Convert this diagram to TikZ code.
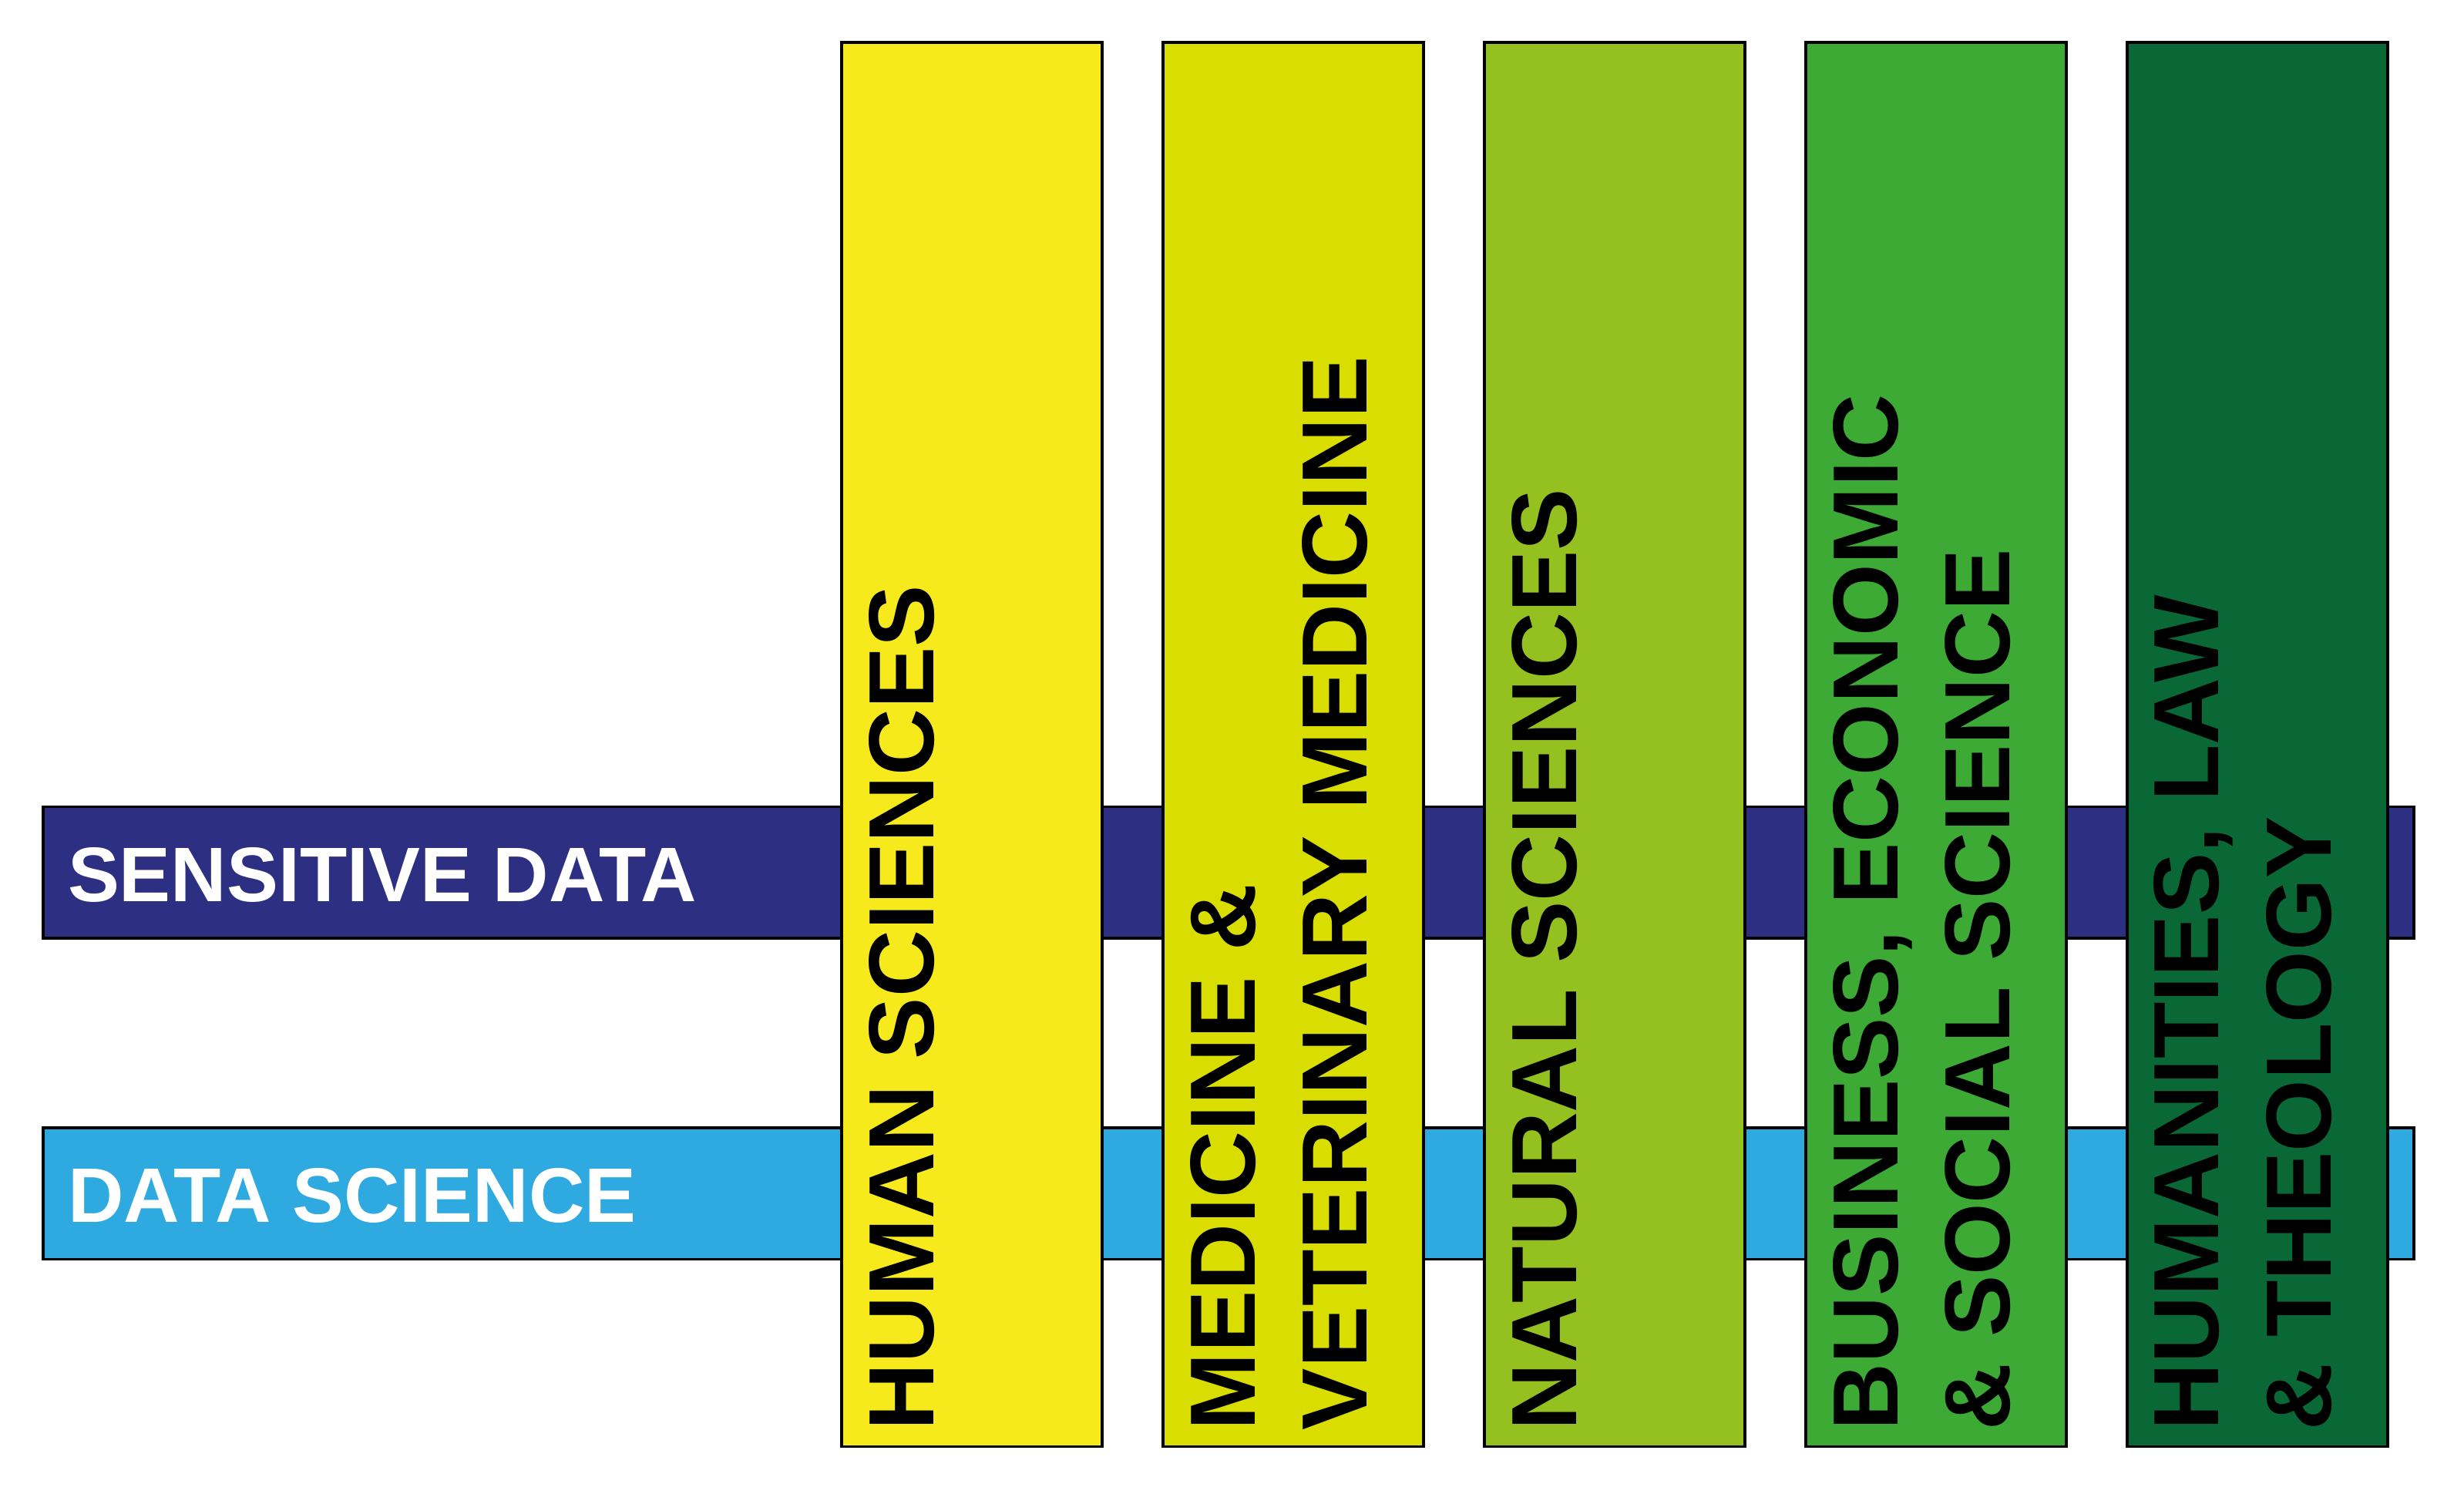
\documentclass[tikz,border=0pt]{standalone}
\usepackage{fontspec}
\setmainfont{Liberation Sans}
\definecolor{navyband}{HTML}{2D2F82}
\definecolor{blueband}{HTML}{2FAAE1}
\definecolor{colA}{HTML}{F6EA1D}
\definecolor{colB}{HTML}{D9DD00}
\definecolor{colC}{HTML}{95C120}
\definecolor{colD}{HTML}{3CAA35}
\definecolor{colE}{HTML}{096835}
\begin{document}
\begin{tikzpicture}[x=1pt,y=-1pt,
  band/.style={draw=black, line width=1.8pt},
  colbox/.style={draw=black, line width=1.8pt},
  bandtxt/.style={anchor=base west, inner sep=0pt, text=white, font=\fontsize{49.2}{49.2}\selectfont\bfseries},
  coltxt/.style={anchor=base west, inner sep=0pt, rotate=90, text=black, font=\fontsize{59}{59}\selectfont\bfseries}]
\useasboundingbox (0,0) rectangle (1568,950.5);
% horizontal bands
\draw[band, fill=navyband] (27.4,513.3) rectangle (1536,597);
\draw[band, fill=blueband] (27.4,717.5) rectangle (1536,801.2);
\node[bandtxt] (sens) at (43,573.5) {SENSITIVE DATA};
\node[bandtxt] (ds) at (43,777.8) {DATA SCIENCE};
% columns
\draw[colbox, fill=colA] (535.5,27) rectangle (701.5,920.4);
\draw[colbox, fill=colB] (740,27) rectangle (906,920.4);
\draw[colbox, fill=colC] (944.5,27) rectangle (1110.5,920.4);
\draw[colbox, fill=colD] (1149,27) rectangle (1315,920.4);
\draw[colbox, fill=colE] (1353.5,27) rectangle (1519.5,920.4);
% column labels
\node[coltxt] (hum) at (594,910) {HUMAN SCIENCES};
\node[coltxt] (med1) at (798.5,910) {MEDICINE \&};
\node[coltxt] (med2) at (870,910) {VETERINARY MEDICINE};
\node[coltxt] (nat) at (1003,910) {NATURAL SCIENCES};
\node[coltxt] (bus1) at (1207.5,910) {BUSINESS, ECONOMIC};
\node[coltxt] (bus2) at (1279,910) {\& SOCIAL SCIENCE};
\node[coltxt] (hu1) at (1412,910) {HUMANITIES, LAW};
\node[coltxt] (hu2) at (1483.5,910) {\& THEOLOGY};
\end{tikzpicture}
\end{document}
